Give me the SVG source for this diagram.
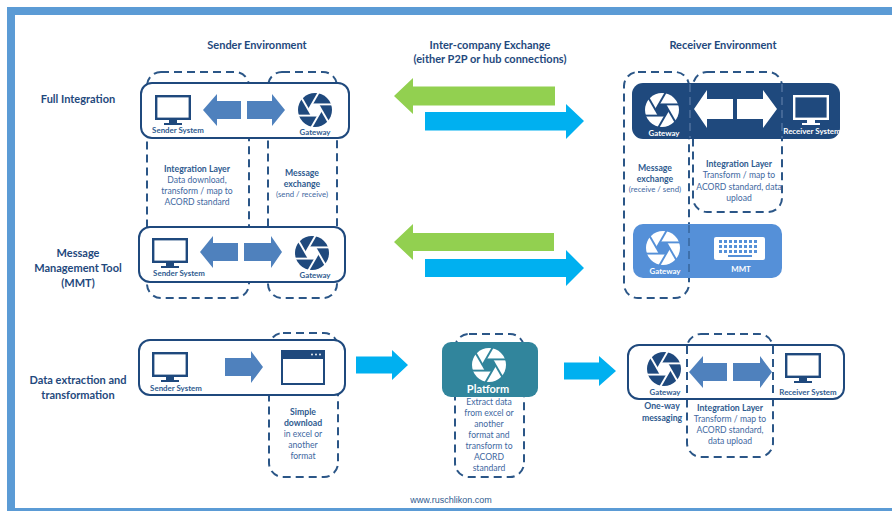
<svg xmlns="http://www.w3.org/2000/svg" width="892" height="511" viewBox="0 0 892 511">
<style>
text{font-family:"Lato","Open Sans","Liberation Sans",sans-serif;text-anchor:middle;fill:#1f497d}
.h{font-size:11px;font-weight:700}
.l{font-size:11px;font-weight:700}
.b{font-size:8.6px;fill:#41689f}
.n{font-size:7.8px;fill:#41689f}
.bb{font-size:8.7px;font-weight:700;fill:#2f5b8f}
.s{font-size:7.9px;font-weight:700;fill:#2f5b8f}
.w{fill:#fff}
.dash{fill:none;stroke:#2b5687;stroke-width:2;stroke-dasharray:8 5}
.box{fill:#fff;stroke:#1f497d;stroke-width:2}
.blue{fill:#4f81bd}.cyan{fill:#00b0f0}.green{fill:#92d050}
.ap{color:#1f497d;--gap:#fff}
.ap.inv{color:#fff;--gap:#1f497d}
.ap.inv2{color:#fff;--gap:#5590d8}
.ap.inv3{color:#fff;--gap:#31859c}
.mon{color:#1f497d}
.mon.inv{color:#fff}
</style>
<defs>
<g id="aperture">
<circle r="17" fill="currentColor"/>
<g style="stroke:var(--gap)" stroke-width="1.9">
<path d="M-3.200 -5.600L17 -5.600"/>
<path d="M-3.200 -5.600L17 -5.600" transform="rotate(60)"/>
<path d="M-3.200 -5.600L17 -5.600" transform="rotate(120)"/>
<path d="M-3.200 -5.600L17 -5.600" transform="rotate(180)"/>
<path d="M-3.200 -5.600L17 -5.600" transform="rotate(240)"/>
<path d="M-3.200 -5.600L17 -5.600" transform="rotate(300)"/>
</g>
<path d="M-3.200 -5.600H3.200L6.500 0L3.200 5.600H-3.200L-6.500 0Z" style="fill:var(--gap)"/>
</g>
<g id="monitor">
<rect x="1.200" y="1.200" width="33.600" height="22.600" fill="none" stroke="currentColor" stroke-width="2.400"/>
<path d="M14 25h8v3h5v2H9v-2h5z" fill="currentColor"/>
</g>
</defs>

<g id="frame" fill="#5b9bd5">
<path d="M7 7H892V15H15V508H892V511H7Z"/>
</g>

<g id="dashed-zones">
<rect class="dash" x="147" y="72" width="102" height="226" rx="14"/>
<rect class="dash" x="268" y="72" width="69" height="226" rx="14"/>
<rect class="dash" x="624" y="72" width="65" height="226" rx="14"/>
<rect class="dash" x="693" y="72" width="89" height="140" rx="14"/>
<rect class="dash" x="269" y="333" width="69" height="144" rx="14"/>
<rect class="dash" x="455" y="334" width="69" height="143" rx="14"/>
<rect class="dash" x="687" y="334" width="86" height="123" rx="14"/>
</g>

<g id="connectors">
<path class="green" d="M394 96L413 78V86.500H555V105.500H413V114Z"/>
<path class="cyan" d="M425 112H566V104L584 121L566 139V130.500H425Z"/>
<path class="green" d="M394 242L413 224V233H554V251H413V260Z"/>
<path class="cyan" d="M425 259H566V250L584 268L566 286V277H425Z"/>
<path class="cyan" d="M356 356.500H392V350L408 365L392 380V373.500H356Z"/>
<path class="cyan" d="M564 362.500H599V356L616 371L599 386V379.500H564Z"/>
</g>

<g id="sender-full">
<rect class="box" x="141" y="83" width="208" height="55" rx="11"/>
<use href="#monitor" x="155" y="95" class="mon"/>
<path class="blue" d="M203 110L217 94V101H241V119H217V126Z"/>
<path class="blue" d="M247 101H272V94L285 110L272 126V119H247Z"/>
<use href="#aperture" x="315" y="110" class="ap"/>
<text class="s" x="178" y="133">Sender System</text>
<text class="s" x="315" y="135">Gateway</text>
</g>

<g id="sender-mmt">
<rect class="box" x="139" y="227" width="206" height="55" rx="11"/>
<use href="#monitor" x="152" y="238" class="mon"/>
<path class="blue" d="M200 252L213 236V243H238V261H213V268Z"/>
<path class="blue" d="M244 243H271V236L282 252L271 268V261H244Z"/>
<use href="#aperture" x="312" y="253" class="ap"/>
<text class="s" x="179" y="276">Sender System</text>
<text class="s" x="315" y="278">Gateway</text>
</g>

<g id="sender-extract">
<rect class="box" x="139" y="340" width="206" height="55" rx="11"/>
<use href="#monitor" x="152" y="352" class="mon"/>
<path class="blue" d="M225 358H251V351L263 367L251 383V376H225Z"/>
<rect x="282" y="351" width="42" height="33" fill="#fff" stroke="#1f497d" stroke-width="2"/>
<rect x="281" y="350" width="44" height="9" fill="#1f497d"/>
<circle cx="312" cy="354.500" r="0.900" fill="#fff"/><circle cx="316" cy="354.500" r="0.900" fill="#fff"/><circle cx="320" cy="354.500" r="0.900" fill="#fff"/>
<text class="s" x="176" y="391">Sender System</text>
</g>

<g id="receiver-full">
<rect x="632" y="83" width="208" height="56" rx="11" fill="#1f497d"/>
<use href="#aperture" x="662" y="110" class="ap inv"/>
<path class="w" d="M694 109L707 90V99H733V119H707V128Z"/>
<path class="w" d="M737 99H763V90L777 109L763 128V119H737Z"/>
<use href="#monitor" x="793" y="95" class="mon inv"/>
<text class="s" x="664" y="136" style="fill:#fff">Gateway</text>
<text class="s" x="812" y="134" style="fill:#fff">Receiver System</text>
</g>

<g id="receiver-mmt">
<rect x="633" y="224" width="149" height="54" rx="10" fill="#5590d8"/>
<use href="#aperture" x="663" y="248" class="ap inv2"/>
<rect x="714" y="237" width="51" height="23" rx="2" fill="#fff"/>
<g fill="#5590d8">
<path d="M719 240h3v3h-3zm5 0h3v3h-3zm5 0h3v3h-3zm5 0h3v3h-3zm5 0h3v3h-3zm5 0h3v3h-3zm5 0h3v3h-3zm5 0h3v3h-3z"/>
<path d="M719 245h3v3h-3zm5 0h3v3h-3zm5 0h3v3h-3zm5 0h3v3h-3zm5 0h3v3h-3zm5 0h3v3h-3zm5 0h3v3h-3zm5 0h3v3h-3z"/>
<path d="M719 250h3v3h-3zm5 0h3v3h-3zm5 0h3v3h-3zm5 0h3v3h-3zm5 0h3v3h-3zm5 0h3v3h-3zm5 0h3v3h-3zm5 0h3v3h-3z"/>
<path d="M728 255h24v2h-24z"/>
</g>
<text class="s" x="665" y="274" style="fill:#fff">Gateway</text>
<text class="s" x="741" y="272" style="fill:#fff">MMT</text>
</g>

<g id="platform">
<rect x="442" y="342" width="96" height="55" rx="9" fill="#31859c"/>
<use href="#aperture" x="489" y="365" class="ap inv3"/>
<text x="488" y="393" style="fill:#fff;font-size:11px;font-weight:700">Platform</text>
</g>

<g id="receiver-extract">
<rect class="box" x="628" y="345" width="216" height="54" rx="11"/>
<use href="#aperture" x="664" y="369" class="ap"/>
<path class="blue" d="M689 372L703 356V363H727V381H703V388Z"/>
<path class="blue" d="M733 363H760V356L772 372L760 388V381H733Z"/>
<use href="#monitor" x="785" y="353" class="mon"/>
<text class="s" x="665" y="395">Gateway</text>
<text class="s" x="808" y="395">Receiver System</text>
</g>

<g id="zone-edges" fill="none" stroke-dasharray="8 5">
<path stroke="#7f9cc0" stroke-width="1.500" opacity="0.500" d="M690 84V138M782 84V138"/>
<path stroke="#2b5687" stroke-width="2" opacity="0.550" d="M689 225V277"/>
<path stroke="#2b5687" stroke-width="2" d="M687 346V398M773 346V398"/>
</g>

<g id="labels">
<text class="h" x="257" y="49">Sender Environment</text>
<text class="h" x="490" y="49">Inter-company Exchange</text>
<text class="h" x="490" y="63">(either P2P or hub connections)</text>
<text class="h" x="723" y="49">Receiver Environment</text>
<text class="l" x="78" y="103">Full Integration</text>
<text class="l" x="78" y="257">Message</text>
<text class="l" x="78" y="272">Management Tool</text>
<text class="l" x="78" y="287">(MMT)</text>
<text class="l" x="78" y="384">Data extraction and</text>
<text class="l" x="78" y="399">transformation</text>

<text class="bb" x="197" y="172">Integration Layer</text>
<text class="b" x="197" y="183">Data download,</text>
<text class="b" x="197" y="194">transform / map to</text>
<text class="b" x="197" y="205">ACORD standard</text>

<text class="bb" x="302" y="176">Message</text>
<text class="bb" x="302" y="187">exchange</text>
<text class="n" x="302" y="197">(send / receive)</text>

<text class="bb" x="655" y="171">Message</text>
<text class="bb" x="655" y="182">exchange</text>
<text class="n" x="655" y="192">(receive / send)</text>

<text class="bb" x="739" y="167">Integration Layer</text>
<text class="b" x="739" y="178">Transform / map to</text>
<text class="b" x="739" y="190">ACORD standard, data</text>
<text class="b" x="739" y="201">upload</text>

<text class="bb" x="303" y="415">Simple</text>
<text class="bb" x="303" y="426">download</text>
<text class="b" x="303" y="437">in excel or</text>
<text class="b" x="303" y="448">another</text>
<text class="b" x="303" y="459">format</text>

<text class="b" x="489" y="405">Extract data</text>
<text class="b" x="489" y="416">from excel or</text>
<text class="b" x="489" y="427">another</text>
<text class="b" x="489" y="438">format and</text>
<text class="b" x="489" y="449">transform to</text>
<text class="b" x="489" y="460">ACORD</text>
<text class="b" x="489" y="471">standard</text>

<text class="bb" x="662" y="409">One-way</text>
<text class="bb" x="662" y="421">messaging</text>

<text class="bb" x="730" y="411">Integration Layer</text>
<text class="b" x="730" y="422">Transform / map to</text>
<text class="b" x="730" y="433">ACORD standard,</text>
<text class="b" x="730" y="444">data upload</text>

<text x="451" y="503" style="font-family:'Liberation Sans',sans-serif;font-size:9px;fill:#2f5b8f">www.ruschlikon.com</text>
</g>
</svg>
